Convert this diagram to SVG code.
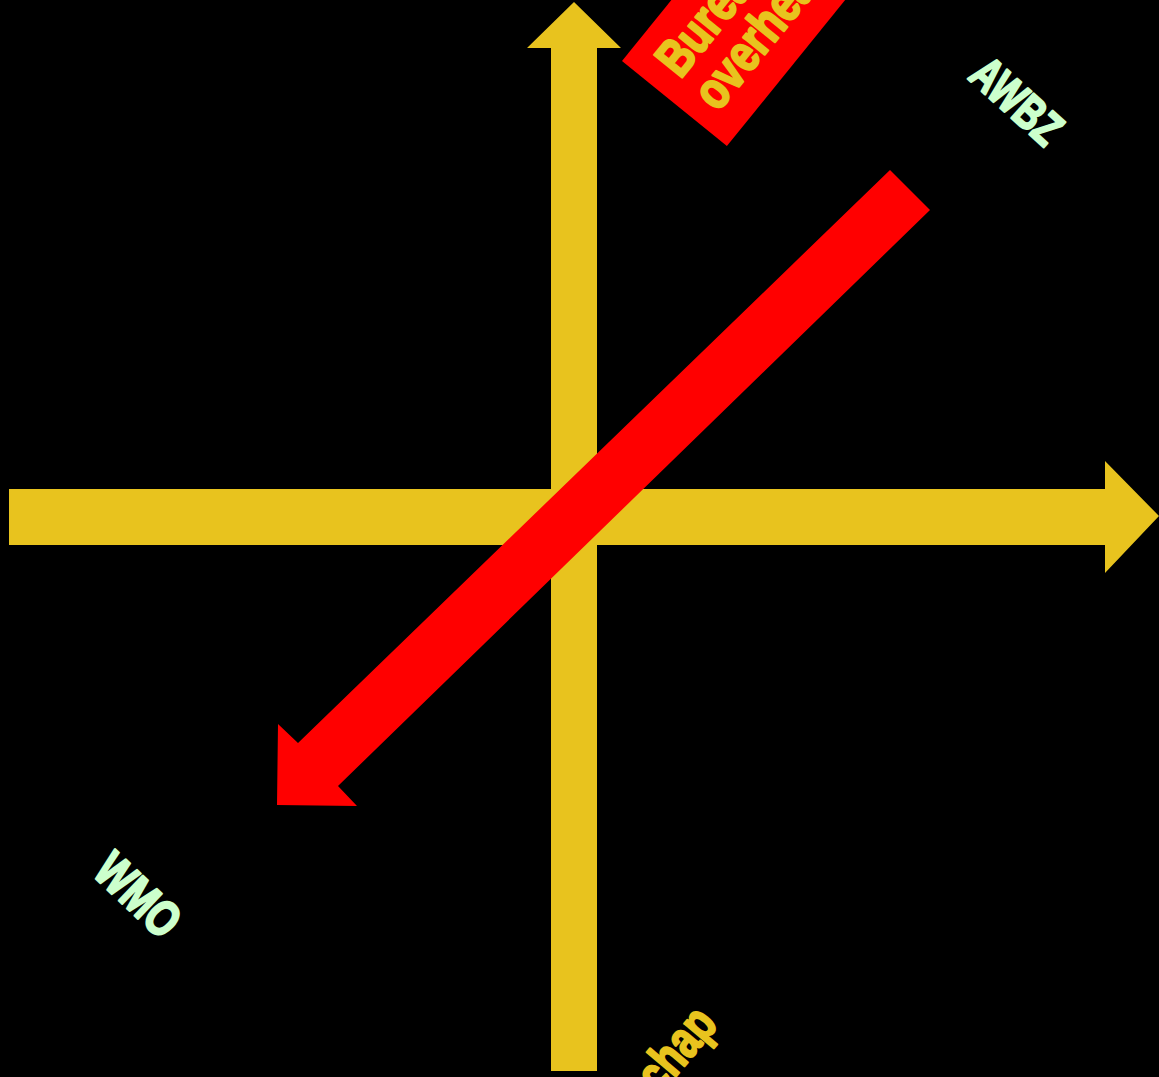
<svg xmlns="http://www.w3.org/2000/svg" width="1159" height="1077" viewBox="0 0 1159 1077">
<style>
.axis{fill:#e8c31e}
.red{fill:#ff0000}
.lbl{font-family:"Liberation Sans","Arial",sans-serif;font-weight:bold;stroke-width:2.4;stroke-linejoin:round}
.green{fill:#ccffcc;stroke:#ccffcc}
.yel{fill:#e8c31e;stroke:#e8c31e}
</style>
<rect x="0" y="0" width="1159" height="1077" fill="#000000"/>
<g id="connectors">
<polygon id="x-axis" class="axis" points="9,489 1105,489 1105,461 1159,516 1105,573 1105,545 9,545"/>
<polygon id="y-axis" class="axis" points="551,1071 551,48 527,48 574,2 621,48 597,48 597,1071"/>
<polygon id="shift-arrow" class="red" points="890,170 930,210 338,786 357,806 277,805 278,724 298,743"/>
</g>
<g id="node-bureaucratie" transform="translate(622,61) rotate(-51)">
<rect class="red" x="0" y="0" width="320" height="135"/>
<text class="lbl yel" font-size="52" transform="translate(22,57) scale(0.8,1)">Bureaucratie</text>
<text class="lbl yel" font-size="52" transform="translate(20,107) scale(0.8,1)">overhead</text>
</g>
<g id="node-awbz">
<text class="lbl green" font-size="48" transform="translate(967,78) rotate(42) scale(0.74,1)">AWBZ</text>
</g>
<g id="node-wmo">
<text class="lbl green" font-size="50" transform="translate(91,874) rotate(43.6) scale(0.76,1)">WMO</text>
</g>
<g id="node-gemeenschap">
<text class="lbl yel" font-size="52" text-anchor="end" transform="translate(719,1025) rotate(-50) scale(0.76,1)">Gemeenschap</text>
</g>
</svg>
